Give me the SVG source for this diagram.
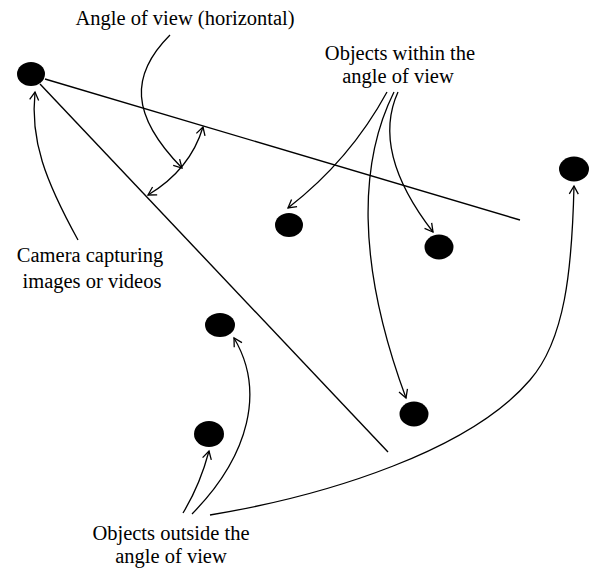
<svg xmlns="http://www.w3.org/2000/svg" width="590" height="571" viewBox="0 0 590 571">
<style>
.t{font-family:"Liberation Serif","Times New Roman",serif;font-size:20.5px;fill:#000;text-anchor:middle}
.ln{fill:none;stroke:#000;stroke-width:1.4}
.ar{fill:none;stroke:#000;stroke-width:1.3;marker-end:url(#ah)}
.dot{fill:#000}
</style>
<defs>
<marker id="ah" markerUnits="userSpaceOnUse" markerWidth="14" markerHeight="14" refX="9" refY="5" orient="auto-start-reverse" viewBox="0 0 14 10">
<path d="M1,0.5 L9,5 L1,9.5" fill="none" stroke="#000" stroke-width="1.3"/>
</marker>
</defs>
<rect width="590" height="571" fill="#fff"/>
<g id="rays">
<line class="ln" x1="45" y1="79" x2="520" y2="220"/>
<line class="ln" x1="40" y1="84" x2="388" y2="452"/>
</g>
<g id="camera"><ellipse class="dot" cx="31" cy="74" rx="14" ry="12"/></g>
<g id="obj-in-1"><ellipse class="dot" cx="289" cy="225" rx="14" ry="12"/></g>
<g id="obj-in-2"><ellipse class="dot" cx="439" cy="247" rx="14.5" ry="12.5"/></g>
<g id="obj-in-3"><ellipse class="dot" cx="414" cy="414" rx="14.5" ry="12.5"/></g>
<g id="obj-out-1"><ellipse class="dot" cx="574" cy="169" rx="15" ry="12.5"/></g>
<g id="obj-out-2"><ellipse class="dot" cx="220" cy="325" rx="15" ry="12"/></g>
<g id="obj-out-3"><ellipse class="dot" cx="209" cy="434" rx="15" ry="13"/></g>
<g id="labels">
<text class="t" x="185" y="25">Angle of view (horizontal)</text>
<text class="t" x="400" y="60">Objects within the</text>
<text class="t" x="398" y="83">angle of view</text>
<text class="t" x="90" y="262">Camera capturing</text>
<text class="t" x="92" y="288">images or videos</text>
<text class="t" x="171" y="540">Objects outside the</text>
<text class="t" x="171" y="563">angle of view</text>
</g>
<g id="connectors">
<path class="ar" style="marker-start:url(#ah)" d="M148,195 Q190,170 203,127"/>
<path class="ar" d="M170,35 C130,75 130,115 182,168"/>
<path class="ar" d="M78,240 C45,180 30,140 35,92"/>
<path class="ar" d="M387,92 Q350,160 288,208"/>
<path class="ar" d="M398,92 C383,125 385,170 433,232"/>
<path class="ar" d="M394,92 C360,160 355,260 406,398"/>
<path class="ar" d="M183,513 Q200,485 209,451"/>
<path class="ar" d="M192,514 C250,455 265,390 234,338"/>
<path class="ar" d="M210,515 C330,495 470,450 530,380 C565,340 572,270 574,186"/>
</g>
</svg>
